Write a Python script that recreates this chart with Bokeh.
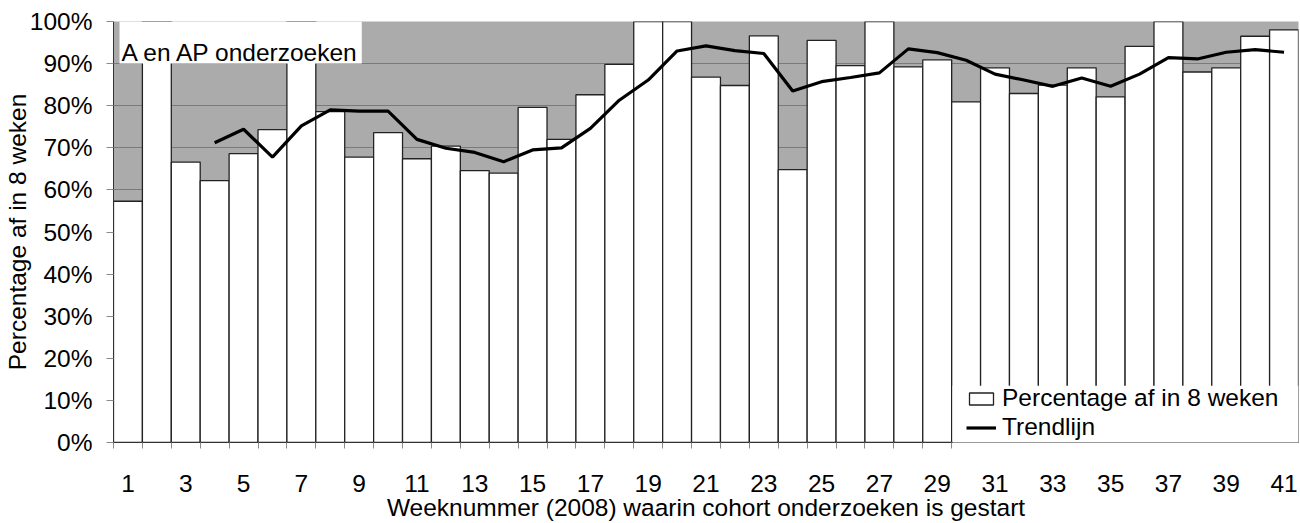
from bokeh.plotting import figure
from bokeh.models import (Range1d, FixedTicker, NumeralTickFormatter, BoxAnnotation,
                          Label, Legend, LegendItem)
from bokeh.embed import file_html
from bokeh.resources import INLINE

# ---- data ----
weeks = list(range(1, 42))
pct_done = [0.573, 1.0, 0.666, 0.622, 0.686, 0.743, 1.0, 0.786, 0.678, 0.736,
            0.674, 0.704, 0.646, 0.640, 0.796, 0.720, 0.826, 0.898, 1.0, 1.0,
            0.868, 0.848, 0.966, 0.648, 0.955, 0.895, 1.0, 0.892, 0.909, 0.809,
            0.890, 0.829, 0.849, 0.890, 0.821, 0.941, 1.0, 0.880, 0.890, 0.965,
            0.980]
trend_weeks = list(range(4, 42))
trend = [0.712, 0.744, 0.678, 0.752, 0.790, 0.787, 0.787, 0.720, 0.699, 0.689,
         0.667, 0.695, 0.700, 0.746, 0.813, 0.861, 0.930, 0.942, 0.931, 0.924,
         0.835, 0.857, 0.867, 0.878, 0.935, 0.926, 0.908, 0.875, 0.861, 0.846,
         0.866, 0.846, 0.875, 0.914, 0.911, 0.927, 0.933, 0.927]
x_tick_labels = list(range(1, 42, 2))
y_ticks = [i / 10 for i in range(11)]

FONT = "Liberation Sans"
FS = "24.5px"

p = figure(width=1300, height=523, x_range=Range1d(0.5, 41.5), y_range=Range1d(0, 1),
           output_backend="svg", toolbar_location=None,
           min_border_left=0, min_border_right=2, min_border_top=21, min_border_bottom=0)
p.background_fill_color = "#ababab"
p.border_fill_color = "white"
p.outline_line_color = None

bars = p.vbar(x=weeks, top=pct_done, width=1.0, bottom=0, fill_color="white",
              line_color="#222222", line_width=1.3)
trend_r = p.line(x=trend_weeks, y=trend, line_color="black", line_width=3.2)

# x axis
xa = p.xaxis[0]
xa.ticker = FixedTicker(ticks=x_tick_labels, minor_ticks=[w - 0.5 for w in weeks[:30]])
xa.major_tick_line_color = None
xa.major_tick_out = 0
xa.major_tick_in = 0
xa.minor_tick_in = 0
xa.minor_tick_out = 6
xa.minor_tick_line_color = "#8a8a8a"
xa.axis_line_color = "#333333"
xa.major_label_text_font = FONT
xa.major_label_text_font_size = FS
xa.major_label_text_color = "black"
xa.major_label_standoff = 26
xa.axis_label = "Weeknummer (2008) waarin cohort onderzoeken is gestart"
xa.axis_label_text_font = FONT
xa.axis_label_text_font_size = FS
xa.axis_label_text_font_style = "normal"
xa.axis_label_text_color = "black"
xa.axis_label_standoff = -1

# y axis
ya = p.yaxis[0]
ya.ticker = FixedTicker(ticks=y_ticks)
ya.formatter = NumeralTickFormatter(format="0%")
ya.major_tick_out = 7
ya.major_tick_in = 0
ya.major_tick_line_color = "#8a8a8a"
ya.minor_tick_line_color = None
ya.axis_line_color = "#333333"
ya.major_label_text_font = FONT
ya.major_label_text_font_size = FS
ya.major_label_text_color = "black"
ya.major_label_standoff = 14
ya.axis_label = "Percentage af in 8 weken"
ya.axis_label_text_font = FONT
ya.axis_label_text_font_size = FS
ya.axis_label_text_font_style = "normal"
ya.axis_label_text_color = "black"
ya.axis_label_standoff = -4

p.xgrid.visible = False
p.ygrid.ticker = FixedTicker(ticks=y_ticks)
p.ygrid.grid_line_color = "#7a7a7a"
p.ygrid.grid_line_width = 1

# title box
p.add_layout(BoxAnnotation(left=0.708, right=9.09, top=1.0, bottom=0.9,
                           fill_color="white", fill_alpha=1.0, line_color=None))
p.add_layout(Label(x=0.777, y=0.927, text="A en AP onderzoeken", text_font=FONT,
                   text_font_size=FS, text_baseline="alphabetic", text_color="black"))

# legend cover + legend
p.add_layout(BoxAnnotation(left=29.53, right=41.5, bottom=-0.016, top=0.135,
                           fill_color="white", fill_alpha=1.0, line_color=None))
legend = Legend(items=[LegendItem(label="Percentage af in 8 weken", renderers=[bars]),
                       LegendItem(label="Trendlijn", renderers=[trend_r])],
                location=(853, 1), background_fill_alpha=0, border_line_color=None,
                padding=0, margin=0, glyph_width=30, glyph_height=15, label_standoff=6,
                spacing=1, label_text_font=FONT, label_text_font_size=FS,
                label_text_color="black")
p.add_layout(legend, "center")

open("out.html", "w").write(file_html(p, INLINE))
